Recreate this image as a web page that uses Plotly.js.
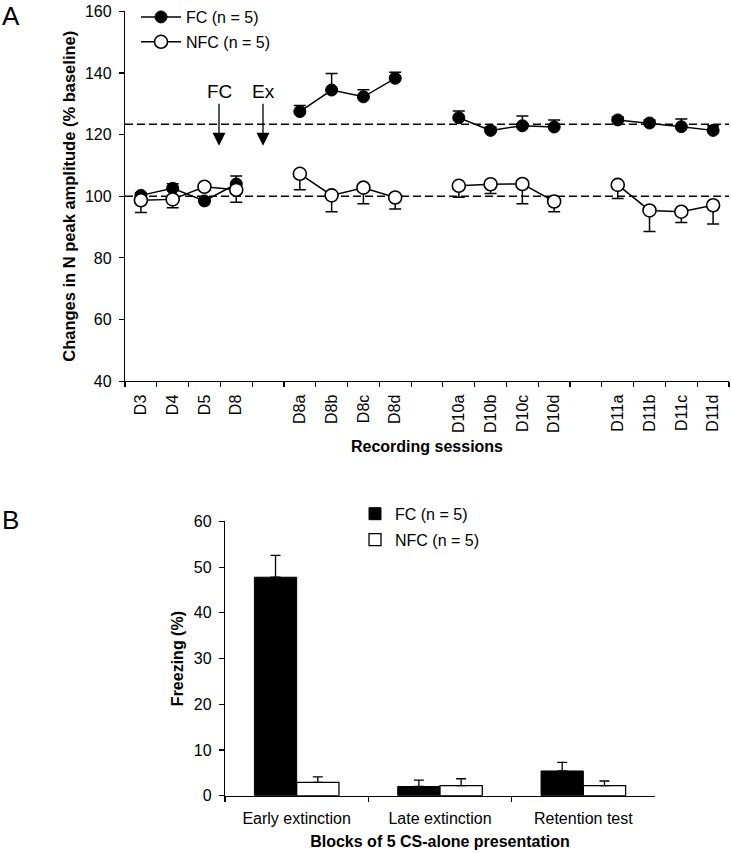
<!DOCTYPE html>
<html>
<head>
<meta charset="utf-8">
<script src="https://cdn.plot.ly/plotly-3.0.1.min.js"></script>
<style>
html,body{margin:0;padding:0;background:#fff;}
#chart{width:731px;height:853px;}
</style>
</head>
<body>
<div id="chart"></div>
<script>
// ---------- Panel A data ----------
const sessions = ['D3','D4','D5','D8',' ','D8a','D8b','D8c','D8d','  ','D10a','D10b','D10c','D10d','   ','D11a','D11b','D11c','D11d'];
const fcAmp   = [100.3,102.6,98.5,104.0,null,127.5,134.5,132.3,138.3,null,125.5,121.4,122.9,122.5,null,124.8,123.8,122.6,121.4];
const fcAmpSem = [0.8,1.5,0.8,2.6,null,2.0,5.4,2.3,2.0,null,2.2,1.0,3.2,2.3,null,1.0,1.0,2.5,1.5];
const nfcAmp  = [98.7,99.0,103.1,102.1,null,107.3,100.3,102.8,99.6,null,103.4,103.9,104.0,98.3,null,103.7,95.4,95.0,97.1];
const nfcAmpSem = [4.0,2.7,1.0,4.0,null,5.2,5.3,5.2,3.7,null,3.7,3.0,6.4,3.3,null,4.4,6.8,3.5,6.1];
const refLevels = [100, 123.4];
const groupNames = ['FC (n = 5)','NFC (n = 5)'];

// ---------- Panel B data ----------
const blocks = ['Early extinction','Late extinction','Retention test'];
const fcFreeze = [47.8, 2.0, 5.4];
const fcFreezeSem = [4.8, 1.4, 1.9];
const nfcFreeze = [2.9, 2.2, 2.2];
const nfcFreezeSem = [1.2, 1.5, 1.0];

const FONT = 'Liberation Sans, Arial, Helvetica, sans-serif';
const W = 731, H = 853;
const px = v => v / W;
const py = v => 1 - v / H;
const zeros = a => a.map(v => v === null ? null : 0);

const traces = [
  {
    type:'scatter', mode:'lines+markers', name: groupNames[0],
    x: sessions, y: fcAmp, xaxis:'x', yaxis:'y', legend:'legend',
    connectgaps:false,
    line:{color:'#000', width:1.5},
    marker:{symbol:'circle', size:12, color:'#000', line:{color:'#000', width:1}},
    error_y:{type:'data', symmetric:false, array: fcAmpSem, arrayminus: zeros(fcAmpSem), color:'#000', thickness:1.5, width:6}
  },
  {
    type:'scatter', mode:'lines+markers', name: groupNames[1],
    x: sessions, y: nfcAmp, xaxis:'x', yaxis:'y', legend:'legend2',
    connectgaps:false,
    line:{color:'#000', width:1.5},
    marker:{symbol:'circle', size:13, color:'#fff', line:{color:'#000', width:1.6}},
    error_y:{type:'data', symmetric:false, array: zeros(nfcAmpSem), arrayminus: nfcAmpSem, color:'#000', thickness:1.5, width:6}
  },
  {
    type:'bar', name: groupNames[0], x: blocks, y: fcFreeze, xaxis:'x2', yaxis:'y2', legend:'legend3',
    marker:{color:'#000', line:{color:'#000', width:1}},
    error_y:{type:'data', symmetric:false, array: fcFreezeSem, arrayminus: zeros(fcFreezeSem), color:'#000', thickness:1.3, width:5}
  },
  {
    type:'bar', name: groupNames[1], x: blocks, y: nfcFreeze, xaxis:'x2', yaxis:'y2', legend:'legend4',
    marker:{color:'#fff', line:{color:'#000', width:1.3}},
    error_y:{type:'data', symmetric:false, array: nfcFreezeSem, arrayminus: zeros(nfcFreezeSem), color:'#000', thickness:1.3, width:5}
  }
];

const axisCommon = {
  showline:true, linecolor:'#000', linewidth:1.2, ticks:'outside', ticklen:5, tickwidth:1.2, tickcolor:'#000',
  showgrid:false, zeroline:false, tickfont:{family:FONT, size:16, color:'#000'}
};

const legendCommon = {
  font:{family:FONT, size:16, color:'#000'}, bgcolor:'rgba(0,0,0,0)', borderwidth:0,
  xanchor:'left', yanchor:'middle', orientation:'v', tracegroupgap:0
};

const shapes = refLevels.map(v => ({
  type:'line', xref:'x domain', yref:'y', x0:0, x1:1, y0:v, y1:v,
  line:{color:'#000', width:1.5, dash:'8px,4px'}, layer:'below'
}));

const layout = {
  width:W, height:H,
  margin:{l:0, r:0, t:0, b:0},
  paper_bgcolor:'#fff', plot_bgcolor:'rgba(0,0,0,0)',
  font:{family:FONT, color:'#000'},
  showlegend:true,
  barmode:'group', bargap:0.41, bargroupgap:0,
  xaxis: Object.assign({}, axisCommon, {
    domain:[px(125), px(729)], anchor:'y', type:'category',
    categoryorder:'array', categoryarray: sessions,
    range:[-0.5, sessions.length - 0.5], tickson:'boundaries', tickangle:-90,
    ticklabelstandoff:6,
    title:{text:'Recording sessions', font:{family:FONT, size:16, color:'#000', weight:'bold'}, standoff:8}
  }),
  yaxis: Object.assign({}, axisCommon, {
    domain:[py(380), py(9.5)], anchor:'x', range:[40,160], dtick:20, tick0:40,
    ticklabelstandoff:4,
    title:{text:'Changes in N peak amplitude (% baseline)', font:{family:FONT, size:16.5, color:'#000', weight:'bold'}, standoff:5}
  }),
  xaxis2: Object.assign({}, axisCommon, {
    domain:[px(225), px(655)], anchor:'y2', type:'category',
    range:[-0.5, 2.5], tickson:'boundaries',
    ticklabelstandoff:8,
    title:{text:'Blocks of 5 CS-alone presentation', font:{family:FONT, size:16, color:'#000', weight:'bold'}, standoff:9}
  }),
  yaxis2: Object.assign({}, axisCommon, {
    domain:[py(795.5), py(520.7)], anchor:'x2', range:[0,60], dtick:10, tick0:0,
    ticklabelstandoff:4,
    title:{text:'Freezing (%)', font:{family:FONT, size:16, color:'#000', weight:'bold'}, standoff:6}
  }),
  legend: Object.assign({}, legendCommon, {x:px(136), y:py(15), itemwidth:40}),
  legend2: Object.assign({}, legendCommon, {x:px(136), y:py(40), itemwidth:40}),
  legend3: Object.assign({}, legendCommon, {x:px(355), y:py(513)}),
  legend4: Object.assign({}, legendCommon, {x:px(355), y:py(539)}),
  shapes: shapes,
  annotations: [
    {text:'A', xref:'paper', yref:'paper', x:px(11), y:py(14), showarrow:false, xanchor:'center', yanchor:'middle',
     font:{family:FONT, size:26, color:'#000'}},
    {text:'B', xref:'paper', yref:'paper', x:px(10), y:py(519), showarrow:false, xanchor:'center', yanchor:'middle',
     font:{family:FONT, size:26, color:'#000'}},
    {text:'FC', xref:'paper', yref:'paper', x:px(219), y:py(144), showarrow:true, axref:'pixel', ayref:'pixel', ax:0, ay:-54,
     arrowhead:2, arrowsize:2, arrowwidth:1.3, arrowcolor:'#000', standoff:0, startstandoff:0,
     font:{family:FONT, size:19, color:'#000'}},
    {text:'Ex', xref:'paper', yref:'paper', x:px(263), y:py(144), showarrow:true, axref:'pixel', ayref:'pixel', ax:0, ay:-54,
     arrowhead:2, arrowsize:2, arrowwidth:1.3, arrowcolor:'#000', standoff:0, startstandoff:0,
     font:{family:FONT, size:19, color:'#000'}}
  ]
};

Plotly.newPlot('chart', traces, layout, {displayModeBar:false, staticPlot:true});
</script>
</body>
</html>
